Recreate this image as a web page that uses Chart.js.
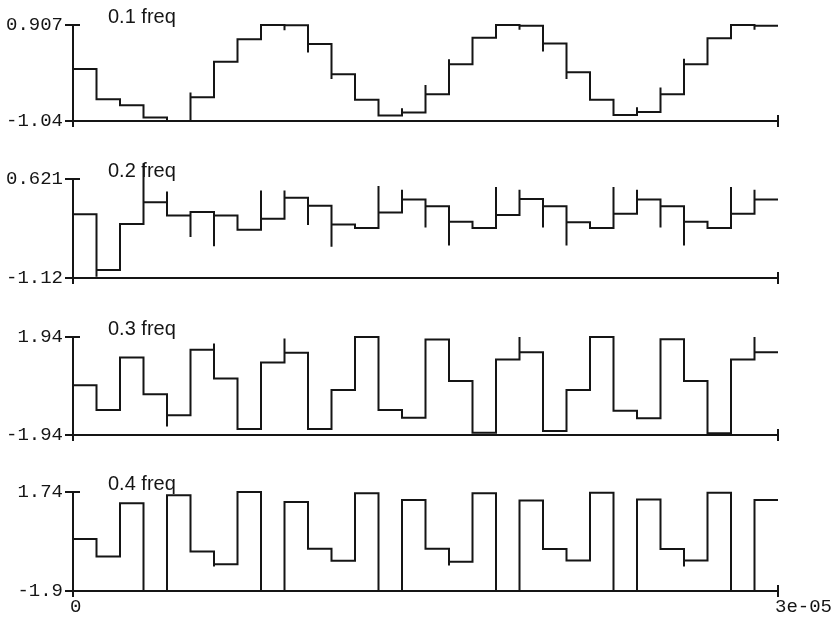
<!DOCTYPE html>
<html>
<head>
<meta charset="utf-8">
<script src="https://cdn.jsdelivr.net/npm/chart.js@4.4.0/dist/chart.umd.min.js"></script>
<style>
  html, body { margin: 0; padding: 0; background: #fff; }
  #wrap { position: relative; width: 837px; height: 618px; overflow: hidden; }
  .panel { position: absolute; left: 0; width: 837px; }
</style>
</head>
<body>
<div id="wrap"></div>
<script>
// ---- data ----
const seriesNames = ['0.1 freq', '0.2 freq', '0.3 freq', '0.4 freq'];
const xRange = [0, 3e-5];
const xTickLabels = ['0', '3e-05'];
const yMax = [0.907, 0.621, 1.94, 1.74];
const yMin = [-1.04, -1.12, -1.94, -1.9];
const yMaxLabels = ['0.907', '0.621', '1.94', '1.74'];
const yMinLabels = ['-1.04', '-1.12', '-1.94', '-1.9'];

// one held value per sample (30 samples)
const freq01 = [0.015, -0.60, -0.72, -0.97, -1.04, -0.56, 0.16, 0.62, 0.907, 0.90,
                0.52, -0.09, -0.61, -0.93, -0.87, -0.50, 0.11, 0.65, 0.907, 0.89,
                0.53, -0.05, -0.61, -0.92, -0.86, -0.50, 0.11, 0.64, 0.907, 0.89];
const freq02 = [0.00, -0.98, -0.17, 0.21, -0.02, 0.04, -0.02, -0.27, -0.08, 0.29,
                0.15, -0.18, -0.24, 0.03, 0.26, 0.14, -0.13, -0.24, -0.01, 0.27,
                0.14, -0.14, -0.24, 0.01, 0.26, 0.14, -0.13, -0.24, 0.01, 0.26];
const freq03 = [0.03, -0.95, 1.13, -0.33, -1.16, 1.44, 0.30, -1.70, 0.93, 1.32,
                -1.70, -0.16, 1.94, -0.95, -1.26, 1.84, 0.20, -1.85, 1.05, 1.34,
                -1.78, -0.16, 1.94, -0.98, -1.28, 1.85, 0.20, -1.87, 1.05, 1.34];
const freq04 = [0.01, -0.63, 1.33, -1.90, 1.62, -0.45, -0.92, 1.74, -1.90, 1.37,
                -0.35, -0.79, 1.69, -1.90, 1.45, -0.35, -0.82, 1.69, -1.90, 1.43,
                -0.36, -0.78, 1.71, -1.90, 1.46, -0.36, -0.78, 1.71, -1.90, 1.45];

// glitches at sample boundaries: [boundary index, value reached]
const spikes01 = [[5, -0.46], [9, 0.80], [10, 0.35], [11, -0.19], [14, -0.78], [15, -0.31],
                  [16, 0.21], [19, 0.81], [20, 0.37], [21, -0.19], [24, -0.76], [25, -0.36],
                  [26, 0.22], [29, 0.81]];
const spikes02 = [[0, -0.76], [1, -1.10], [3, 0.90], [4, 0.40], [5, -0.40], [6, -0.56],
                  [8, 0.42], [9, 0.42], [10, -0.19], [11, -0.57], [13, 0.50], [14, 0.43],
                  [15, -0.23], [16, -0.55], [18, 0.48], [19, 0.43], [20, -0.23], [21, -0.55],
                  [23, 0.48], [24, 0.43], [25, -0.23], [26, -0.55], [28, 0.48], [29, 0.43]];
const spikes03 = [[4, -1.60], [6, 1.68], [9, 1.88], [19, 1.94], [29, 1.94]];
const spikes04 = [[6, -1.0], [16, -0.96], [26, -1.0]];

const allValues = [freq01, freq02, freq03, freq04];
const allSpikes = [spikes01, spikes02, spikes03, spikes04];

// ---- layout ----
const INK = '#151515';
const panelTop = [25, 179, 337, 492];
const panelBottom = [121, 278, 435, 591];
const PAD_TOP = 26;
const MONO = '"Liberation Mono", "Courier New", monospace';

function stepPoints(values, spikes) {
  const dt = (xRange[1] - xRange[0]) / values.length;
  const spikeAt = new Map(spikes);
  const pts = [];
  values.forEach((v, i) => {
    const x = xRange[0] + i * dt;
    if (spikeAt.has(i)) pts.push({x, y: spikeAt.get(i)});
    pts.push({x, y: v});
    pts.push({x: x + dt, y: v});
  });
  return pts;
}

// crossing tick marks at the axis ends + the panel caption
const axisMarks = {
  id: 'axisMarks',
  afterDraw(chart) {
    const {ctx, chartArea: a, scales} = chart;
    const yTop = scales.y.getPixelForValue(scales.y.max);
    const yBot = scales.y.getPixelForValue(scales.y.min);
    const xL = scales.x.getPixelForValue(scales.x.min);
    const xR = scales.x.getPixelForValue(scales.x.max);
    ctx.save();
    ctx.strokeStyle = INK;
    ctx.lineWidth = 2;
    ctx.beginPath();
    [yTop, yBot].forEach(y => { ctx.moveTo(xL - 8, y); ctx.lineTo(xL + 7, y); });
    [xL, xR].forEach(x => { ctx.moveTo(x, yBot - 6); ctx.lineTo(x, yBot + 6); });
    ctx.stroke();
    ctx.fillStyle = INK;
    ctx.font = '20px "Liberation Sans", Arial, sans-serif';
    ctx.textBaseline = 'middle';
    ctx.textAlign = 'left';
    ctx.fillText(chart.data.datasets[0].label, a.left + 35, a.top - 8);
    ctx.restore();
  }
};

const wrap = document.getElementById('wrap');

seriesNames.forEach((name, k) => {
  const last = k === seriesNames.length - 1;
  const axisH = last ? 27 : 8;
  const div = document.createElement('div');
  div.className = 'panel';
  div.style.top = (panelTop[k] - PAD_TOP) + 'px';
  div.style.height = (panelBottom[k] - panelTop[k] + PAD_TOP + axisH) + 'px';
  const canvas = document.createElement('canvas');
  div.appendChild(canvas);
  wrap.appendChild(div);

  new Chart(canvas, {
    type: 'line',
    data: {
      datasets: [{
        label: name,
        data: stepPoints(allValues[k], allSpikes[k]),
        borderColor: INK,
        borderWidth: 2,
        pointRadius: 0,
        fill: false,
        tension: 0,
        clip: false
      }]
    },
    options: {
      responsive: true,
      maintainAspectRatio: false,
      animation: false,
      events: [],
      layout: { padding: { top: PAD_TOP, right: 59, left: 0, bottom: 0 } },
      plugins: { legend: { display: false }, tooltip: { enabled: false } },
      scales: {
        x: {
          type: 'linear',
          min: xRange[0],
          max: xRange[1],
          grid: { display: false, drawTicks: false },
          border: { display: true, color: INK, width: 2 },
          afterBuildTicks: s => { s.ticks = xRange.map(v => ({value: v})); },
          afterFit: s => { s.height = axisH; s.paddingLeft = 0; s.paddingRight = 0; },
          ticks: {
            display: last,
            align: 'start',
            maxRotation: 0,
            minRotation: 0,
            autoSkip: false,
            padding: 5,
            labelOffset: -3,
            color: INK,
            font: { family: MONO, size: 19 },
            callback: (v, i) => xTickLabels[i]
          }
        },
        y: {
          type: 'linear',
          min: yMin[k],
          max: yMax[k],
          grid: { display: false, drawTicks: false },
          border: { display: true, color: INK, width: 2 },
          afterBuildTicks: s => { s.ticks = [{value: yMin[k]}, {value: yMax[k]}]; },
          afterFit: s => { s.width = 73; s.paddingTop = 0; s.paddingBottom = 0; },
          ticks: {
            padding: 10,
            autoSkip: false,
            color: INK,
            font: { family: MONO, size: 19 },
            callback: (v, i) => (i === 0 ? yMinLabels[k] : yMaxLabels[k])
          }
        }
      }
    },
    plugins: [axisMarks]
  });
});
</script>
</body>
</html>
